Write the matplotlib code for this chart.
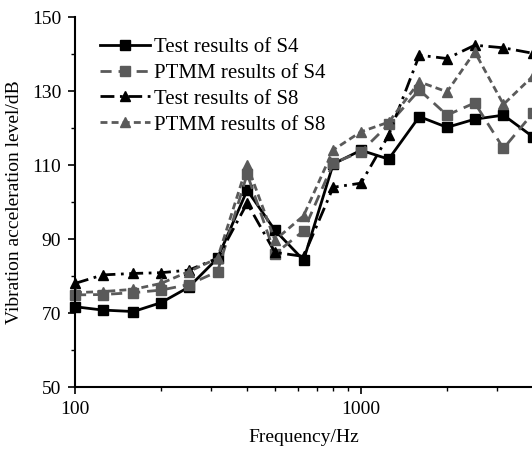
import numpy as np
import matplotlib
matplotlib.use('Agg')
import matplotlib.pyplot as plt
from matplotlib.ticker import FixedLocator, NullFormatter

# 1/3 octave band centre frequencies
freq = [100, 125, 160, 200, 250, 315, 400, 500, 630, 800, 1000, 1250, 1600, 2000, 2500, 3150, 4000]

test_s4 = [71.7, 70.8, 70.4, 72.8, 77.0, 84.8, 103.2, 92.4, 84.3, 110.3, 114.0, 111.6, 123.1, 120.2, 122.4, 123.5, 117.6]
ptmm_s4 = [74.9, 75.0, 75.5, 76.2, 77.7, 81.2, 107.6, 86.0, 92.2, 110.5, 113.6, 121.0, 130.3, 123.5, 126.8, 114.5, 124.1]
test_s8 = [78.0, 80.3, 80.7, 80.9, 81.6, 84.8, 99.7, 86.4, 85.3, 104.0, 105.1, 118.1, 139.7, 138.8, 142.4, 141.7, 140.2]
ptmm_s8 = [75.5, 75.8, 76.4, 78.0, 81.2, 84.8, 110.0, 89.7, 96.3, 114.1, 119.0, 121.6, 132.5, 129.8, 140.6, 126.4, 134.1]

labels = ['Test results of S4', 'PTMM results of S4', 'Test results of S8', 'PTMM results of S8']

plt.rcParams['font.family'] = ['Liberation Serif', 'DejaVu Serif']
plt.rcParams['font.size'] = 14

gray = '#5a5a5a'

fig = plt.figure(figsize=(5.32, 4.5), dpi=100)
ax = fig.add_axes([0.141, 0.14, 0.859, 0.822])

ax.plot(freq, test_s4, color='black', linestyle='-', linewidth=2, marker='s',
        markersize=6.5, label=labels[0], clip_on=False)
ax.plot(freq, ptmm_s4, color=gray, linestyle=(0, (4, 2.5)), linewidth=2, marker='s',
        markersize=6.5, label=labels[1], clip_on=False)
ax.plot(freq, test_s8, color='black', linestyle=(0, (5, 2, 1, 2)), linewidth=2, marker='^',
        markersize=7.5, label=labels[2], clip_on=False)
ax.plot(freq, ptmm_s8, color=gray, linestyle=(0, (2.5, 1.5)), linewidth=2, marker='^',
        markersize=7.5, label=labels[3], clip_on=False)

ax.set_xscale('log')
ax.set_xlim(100, 3964)
ax.set_ylim(50, 150)

ax.xaxis.set_major_locator(FixedLocator([100, 1000]))
ax.xaxis.set_minor_locator(FixedLocator([200, 300, 400, 500, 600, 700, 800, 900, 2000, 3000]))
ax.xaxis.set_minor_formatter(NullFormatter())
ax.set_xticklabels(['100', '1000'])
ax.set_yticks([50, 70, 90, 110, 130, 150])
ax.yaxis.set_minor_locator(FixedLocator([60, 80, 100, 120, 140]))

ax.tick_params(which='major', direction='out', length=5, width=1.2, labelsize=14, pad=5)
ax.tick_params(which='minor', direction='out', length=3, width=1.0)

ax.spines['top'].set_visible(False)
ax.spines['right'].set_visible(False)
ax.spines['left'].set_linewidth(1.5)
ax.spines['bottom'].set_linewidth(1.5)

ax.set_xlabel('Frequency/Hz', fontsize=14, labelpad=8)
ax.set_ylabel('Vibration acceleration level/dB', fontsize=14, labelpad=6)

ax.legend(loc='upper left', bbox_to_anchor=(0.055, 0.945), frameon=False, fontsize=15,
          handlelength=2.4, handletextpad=0.2, labelspacing=0.3, borderaxespad=0,
          borderpad=0)

plt.savefig('out.png', dpi=100)
